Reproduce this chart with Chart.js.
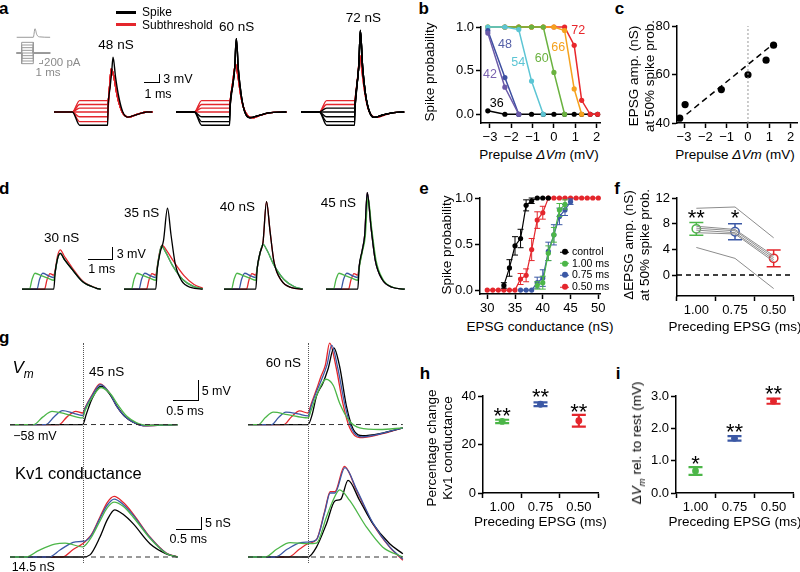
<!DOCTYPE html>
<html>
<head>
<meta charset="utf-8">
<script src="https://cdn.jsdelivr.net/npm/chart.js@4.4.1/dist/chart.umd.min.js"></script>
<style>
  html, body { margin: 0; padding: 0; background: #fff; }
  #fig { position: relative; width: 800px; height: 572px; overflow: hidden; font-family: "Liberation Sans", Arial, sans-serif; }
  #fig canvas { position: absolute; }
  .t { position: absolute; white-space: nowrap; line-height: 1; text-align: center; }
</style>
</head>
<body>
<div id="fig"></div>
<script>
const FONT = '"Liberation Sans", Arial, sans-serif';
const GREEN = '#4cb648', BLUE = '#3b58a5', RED = '#e4262c', BLACK = '#000';

// ---------- a : prepulse families (ms, mV from rest) ----------
const aLevels = [3.8, 2.5, 1.3, 0, -1.6, -3.2, -4.4];
const aSpikeCount = [1, 3, 5];          // lowest prepulses that fire, 48 / 60 / 72 nS
const a48Sub = [[3.42,5],[3.5,10],[3.58,14.4],[3.75,11.5],[3.95,5.5],[4.15,1.5],[4.35,-0.8],[4.66,-1.7],[5.18,-0.8],[5.8,0],[6.15,0]];
const a48Spike = [[3.38,1.5],[3.5,8],[3.6,13],[3.69,18.3],[3.85,11.5],[4.05,5],[4.3,0],[4.62,-1.7],[5.15,-0.9],[5.8,0],[6.15,0]];
const a60Sub = [[3.42,5],[3.55,10],[3.72,15.9],[3.87,12],[4.05,5.5],[4.25,1],[4.5,-1.3],[4.8,-1.9],[5.2,-1.2],[5.8,-0.3],[6.9,0]];
const a60Spike = [[3.38,1.5],[3.55,9],[3.66,14],[3.77,24.4],[3.9,14],[4.08,5.5],[4.3,0],[4.62,-1.9],[5.15,-1.2],[5.8,-0.3],[6.9,0]];
const a72Sub = [[3.42,6],[3.55,12],[3.68,18.9],[3.82,13],[4.0,6],[4.2,1],[4.45,-1.3],[4.75,-1.8],[5.2,-1.0],[5.8,-0.2],[6.45,0]];
const a72Spike = [[3.38,2],[3.52,10],[3.62,16],[3.71,27.2],[3.85,15],[4.03,6],[4.25,0.5],[4.55,-1.8],[5.1,-1.0],[5.8,-0.2],[6.45,0]];
const aInsetLevels = [-400, -300, -200, -100, 0, 100, 200, 300, 400];   // pA
const aInsetEpsg = [[0.46,0],[4.95,0],[5.4,1],[5.9,0.3],[6.6,0.05],[9.5,0]];

// ---------- b : spike probability vs prepulse ----------
const bX = [-3.1, -2.3, -1.65, -1.05, -0.5, 0, 0.5, 0.95, 1.3, 1.7, 2.05];
const b36 = [0.04, 0, 0, 0, 0, 0, 0, 0, 0, 0, 0];
const b42 = [0.93, 0.31, 0];
const b48 = [0.96, 0.42, 0];
const b54 = [1, 1, 0.97, 0.38, 0];
const b60 = [1, 1, 1, 1, 1, 0.48, 0];
const b66 = [1, 1, 1, 1, 1, 1, 0.96, 0.29, 0];
const b72 = [null, 1, 1, 1, 1, 1, 1, 0.79, 0.16, 0, 0];

// ---------- c : threshold EPSG vs prepulse ----------
const cX = [-3.2, -2.95, -1.25, 0, 0.85, 1.2];
const cY = [42, 47.6, 53.8, 59.9, 65.9, 72.1];
const cFit = [[-2.88, 43.6], [1.02, 71.4]];

// ---------- d : preceding EPSGs (ms, mV) ----------
const dGreenPre = [[0,0],[0.3,0],[0.4,2.5],[0.52,4.1],[0.8,3.4],[1.05,2.8],[1.27,2.3]];
const dBluePre = [[0,0],[0.6,0],[0.7,2.5],[0.83,4.1],[1.05,3.5],[1.27,3.0]];
const dRedPre = [[0,0],[0.9,0],[1.0,2.4],[1.12,4.0],[1.27,3.6]];
const dBlackPre = [[0,0],[1.27,0]];
const d30Sub = [[1.33,4.5],[1.42,7.8],[1.53,9.2],[1.7,7.6],[2.03,4.9],[2.43,1.9],[2.96,0.3],[3.15,0]];
const d30SubRed = [[1.33,5],[1.42,8.5],[1.53,10.1],[1.7,8.4],[2.03,5.3],[2.43,2.1],[2.96,0.3],[3.15,0]];
const d35Sub = [[1.33,5.5],[1.42,9],[1.5,11.1],[1.65,9.7],[1.95,6],[2.35,2.5],[2.75,0.8],[3.15,0.1]];
const d35SubRed = [[1.33,5.8],[1.42,9.3],[1.52,11.3],[1.7,10],[2.0,7],[2.4,3.5],[2.8,1.2],[3.15,0.3]];
const d35Spike = [[1.33,5],[1.45,9.5],[1.58,12.5],[1.74,20.8],[1.88,14],[2.05,6.5],[2.3,2.2],[2.7,0.4],[3.15,0]];
const d40Sub = [[1.33,5.5],[1.45,9.5],[1.56,11.5],[1.72,10],[2.0,6.2],[2.4,2.5],[2.8,0.7],[3.15,0]];
const d40Spike = [[1.33,5.5],[1.45,9.5],[1.56,12],[1.7,22.5],[1.84,15],[2.0,7],[2.3,2.2],[2.7,0.4],[3.15,0]];
const d45Spike = [[1.33,6],[1.45,10],[1.55,14],[1.65,24.8],[1.8,16],[1.97,7.5],[2.25,2.5],[2.65,0.5],[3.15,0]];
const d45SpikeGreen = [[1.33,5.5],[1.45,9.5],[1.57,13.5],[1.68,23.5],[1.83,15.5],[2.0,7.5],[2.28,2.5],[2.68,0.5],[3.15,0]];

// ---------- e : spike probability vs EPSG ----------
const eX = [30,31,32,33,34,35,36,37,38,39,40,41,42,43,44,45,46,47,48,49,50];
const eCtrl = [null,null,null,0.05,0.24,0.48,0.56,0.92,0.97,1,1,1];
const eCtrlErr = [0,0,0,0.03,0.09,0.1,0.1,0.06,0.03,0,0,0];
const e100 = [null,null,null,null,null,null,null,null,null,0.05,0.08,0.4,0.6,0.87,0.93];
const e100Err = [0,0,0,0,0,0,0,0,0,0.04,0.07,0.08,0.08,0.07,0.05];
const e075 = [null,null,null,null,null,null,0,0,0,0.08,0.13,0.42,0.6,0.8,0.87,0.96];
const e075Err = [0,0,0,0,0,0,0,0,0,0.06,0.09,0.1,0.11,0.09,0.06,0.03];
const e050 = [0,0,0,0,0,0,0.12,0.16,0.44,0.76,0.84,1,1,1,1,1,1,1,1,1,1];
const e050Err = [0,0,0,0,0,0,0.06,0.07,0.12,0.09,0.07,0,0,0,0,0,0,0,0,0,0];

// ---------- f / h / i : by preceding EPSG ----------
const precLabels = ['1.00', '0.75', '0.50'];
const fMean = [7.2, 6.75, 2.6];
const fErr = [1.0, 1.25, 1.3];
const fCells = [[10.4,10.6,5.8],[7.6,7.1,3.0],[7.3,6.9,2.7],[7.0,6.6,2.4],[6.6,6.4,2.1],[4.3,2.6,-2.1]];
const fStars = ['**', '*', ''];
const fStarY = [9.8, 9.8, 0];
const hMean = [29.5, 36.6, 29.8];
const hErr = [0.7, 0.8, 2.4];
const hStars = ['**', '**', '**'];
const hStarY = [34.2, 41.8, 35.6];
const iMean = [0.68, 1.69, 2.84];
const iErr = [0.12, 0.07, 0.08];
const iStars = ['*', '**', '**'];
const iStarY = [1.07, 2.05, 3.22];

// ---------- g : Vm and Kv1 conductance (ms, mV / nS from rest) ----------
const gVmLGreen = [[0,0],[0.45,0],[0.62,1.8],[0.8,3.2],[1.05,2.6],[1.38,1.6],[1.43,3.5],[1.55,6.3],[1.73,9.0],[1.92,7.3],[2.05,4.8],[2.22,2.0],[2.4,0.5],[2.6,-0.2],[3.19,0]];
const gVmLBlue = [[0,0],[0.68,0],[0.84,1.9],[1.0,3.4],[1.2,2.8],[1.38,2.2],[1.43,4.0],[1.55,6.8],[1.72,9.7],[1.9,7.5],[2.02,4.6],[2.18,2.0],[2.34,0.6],[2.53,-0.3],[2.8,-0.2],[3.19,0]];
const gVmLRed = [[0,0],[0.93,0],[1.08,1.8],[1.25,3.2],[1.38,2.8],[1.43,4.2],[1.55,7.0],[1.71,9.9],[1.9,7.5],[2.02,4.6],[2.18,2.0],[2.34,0.6],[2.53,-0.3],[2.8,-0.2],[3.19,0]];
const gVmLBlack = [[0,0],[1.38,0],[1.45,2.5],[1.55,6],[1.73,9.3],[1.9,7.3],[2.03,4.5],[2.18,2.0],[2.34,0.6],[2.53,-0.2],[3.19,0]];
const gVmRGreen = [[0,0],[0.2,0],[0.33,1.7],[0.48,3.0],[0.75,2.4],[1.14,1.6],[1.2,3.5],[1.3,7],[1.48,11.0],[1.62,9.5],[1.74,5.2],[1.93,0.8],[2.12,-0.8],[2.5,-1.2],[2.94,-0.8]];
const gVmRBlue = [[0,0],[0.45,0],[0.58,1.7],[0.72,3.0],[0.95,2.6],[1.14,2.1],[1.2,4.5],[1.3,8],[1.4,11],[1.5,14.5],[1.59,19.3],[1.7,14],[1.84,4.8],[1.97,-1],[2.15,-3],[2.5,-2.3],[2.94,-0.8]];
const gVmRRed = [[0,0],[0.68,0],[0.82,1.8],[0.98,3.3],[1.14,2.8],[1.2,5],[1.3,8.5],[1.38,11.5],[1.47,14.5],[1.55,19.8],[1.67,14.1],[1.8,5.2],[1.93,-0.8],[2.12,-3.2],[2.5,-2.4],[2.94,-0.8]];
const gVmRBlack = [[0,0],[1.14,0],[1.22,2.5],[1.3,6.9],[1.42,10],[1.52,13.5],[1.63,18.6],[1.74,14.1],[1.87,4.4],[2.0,-1.2],[2.18,-2.7],[2.5,-2.2],[2.94,-0.8]];
const gKvLGreen = [[0,0],[0.3,0],[0.55,2.5],[0.85,4.8],[1.05,5.2],[1.38,3.8],[1.45,4.8],[1.55,7.5],[1.71,13.5],[1.85,18.5],[1.98,20.6],[2.15,19],[2.34,15],[2.66,7],[2.97,1.3],[3.19,0]];
const gKvLBlue = [[0,0],[0.74,0],[0.95,2.6],[1.2,5.5],[1.38,5.9],[1.45,6.2],[1.55,8.2],[1.71,14.5],[1.85,19.5],[1.98,21.7],[2.15,19.7],[2.34,15.7],[2.66,7.3],[2.97,1.4],[3.19,0]];
const gKvLRed = [[0,0],[0.99,0],[1.2,2.8],[1.38,5.0],[1.45,6.2],[1.55,8.5],[1.71,15],[1.85,20.5],[1.98,22.7],[2.15,20.5],[2.34,16.2],[2.66,7.5],[2.97,1.5],[3.19,0]];
const gKvLBlack = [[0,0],[1.38,0],[1.52,0.8],[1.71,7.5],[1.85,14],[1.99,17.7],[2.15,16],[2.34,12.5],[2.66,5],[2.97,1.2],[3.19,0]];
const gKvRGreen = [[0,0],[0.33,0],[0.55,3],[0.8,5.4],[1.14,5.0],[1.3,5.2],[1.49,15],[1.62,21.5],[1.74,25.2],[1.93,21.2],[2.25,11.2],[2.56,3.7],[2.94,0]];
const gKvRBlue = [[0,0],[0.52,0],[0.75,3],[1.0,5.4],[1.14,5.6],[1.3,6.5],[1.46,17],[1.56,24],[1.65,24],[1.84,33.5],[2.07,25],[2.37,12.8],[2.69,3.8],[2.94,-0.8]];
const gKvRRed = [[0,0],[0.77,0],[0.98,3],[1.14,5.0],[1.3,6.5],[1.46,17.5],[1.56,24.5],[1.65,24.5],[1.83,34],[2.06,25],[2.37,12.5],[2.69,3.7],[2.94,-1.2]];
const gKvRBlack = [[0,0],[1.14,0],[1.3,3.7],[1.49,12.5],[1.65,21],[1.76,21.6],[1.9,28.7],[2.12,21.2],[2.37,12.5],[2.69,5],[2.94,1.2]];
const gBaseL = [[0,0],[3.19,0]];
const gBaseR = [[0,0],[2.94,0]];

// ======================================================================
const fig = document.getElementById('fig');
Chart.defaults.font.family = FONT;
Chart.defaults.font.size = 13;
Chart.defaults.color = '#000';
Chart.defaults.animation = false;
Chart.defaults.responsive = false;
Chart.defaults.plugins.legend.display = false;
Chart.defaults.plugins.tooltip.enabled = false;

// error bars, stars and the dashed zero line
const marks = {
  id: 'marks',
  beforeDatasetsDraw(chart, args, opts) {
    if (!opts.zeroLine) return;
    const { ctx, chartArea: a } = chart;
    const y = chart.scales.y.getPixelForValue(0);
    ctx.save();
    ctx.setLineDash([5, 4]);
    ctx.lineWidth = 1.5;
    ctx.strokeStyle = '#000';
    ctx.beginPath(); ctx.moveTo(a.left, y); ctx.lineTo(a.right, y); ctx.stroke();
    ctx.restore();
  },
  beforeDatasetDraw(chart, args) {
    const ds = chart.data.datasets[args.index];
    if (!ds.err) return;
    const ctx = chart.ctx, ys = chart.scales.y;
    ctx.save();
    ctx.lineWidth = ds.errWidth || 1;
    args.meta.data.forEach((pt, j) => {
      const v = ds.data[j];
      const val = v && typeof v === 'object' ? v.y : v;
      if (val == null || !ds.err[j]) return;
      const t = ys.getPixelForValue(val + ds.err[j]), b = ys.getPixelForValue(val - ds.err[j]);
      const w = ds.capW || 3;
      ctx.strokeStyle = Array.isArray(ds.errColor) ? ds.errColor[j] : (ds.errColor || ds.borderColor);
      ctx.beginPath();
      ctx.moveTo(pt.x, t); ctx.lineTo(pt.x, b);
      ctx.moveTo(pt.x - w, t); ctx.lineTo(pt.x + w, t);
      ctx.moveTo(pt.x - w, b); ctx.lineTo(pt.x + w, b);
      ctx.stroke();
    });
    ctx.restore();
  },
  afterDatasetsDraw(chart, args, opts) {
    if (!opts.stars) return;
    const ctx = chart.ctx, size = 22;
    ctx.save();
    ctx.font = size + 'px ' + FONT;
    ctx.fillStyle = '#000';
    ctx.textAlign = 'center';
    ctx.textBaseline = 'alphabetic';
    opts.stars.forEach((s, j) => {
      if (!s) return;
      ctx.fillText(s, chart.scales.x.getPixelForValue(j), chart.scales.y.getPixelForValue(opts.starY[j]) + 0.57 * size);
    });
    ctx.restore();
  }
};
Chart.register(marks);

function canvasAt(left, top, w, h) {
  const c = document.createElement('canvas');
  c.width = Math.round(w); c.height = Math.round(h);
  c.style.left = left + 'px'; c.style.top = top + 'px';
  c.style.width = Math.round(w) + 'px'; c.style.height = Math.round(h) + 'px';
  fig.appendChild(c);
  return c;
}

function txt(html, x, y, o = {}) {
  const d = document.createElement('div');
  d.className = 't';
  d.innerHTML = html;
  d.style.left = x + 'px';
  d.style.top = y + 'px';
  d.style.fontSize = (o.size || 13.5) + 'px';
  if (o.color) d.style.color = o.color;
  if (o.bold) d.style.fontWeight = 'bold';
  if (o.lh) d.style.lineHeight = o.lh;
  d.style.transform = 'translate(' + (o.align === 'left' ? '0' : '-50%') + ',-50%)' + (o.rot ? ' rotate(-90deg)' : '');
  fig.appendChild(d);
}

function box(left, top, w, h, css) {
  const d = document.createElement('div');
  d.style.cssText = `position:absolute;left:${left}px;top:${top}px;width:${w}px;height:${h}px;${css}`;
  fig.appendChild(d);
}

const pts = arr => arr.map(p => ({ x: p[0], y: p[1] }));

function trace(arr, color, extra) {
  return Object.assign({
    data: pts(arr), borderColor: color, borderWidth: 1.3, pointRadius: 0,
    cubicInterpolationMode: 'monotone', clip: false, fill: false
  }, extra);
}

// a chart with hidden linear axes; x0/yBase are where (0,0) sits on the page
function traceChart(x0, yBase, px, py, xr, yr, datasets) {
  const left = x0 + xr[0] * px, top = yBase - yr[1] * py;
  return new Chart(canvasAt(left, top, (xr[1] - xr[0]) * px, (yr[1] - yr[0]) * py), {
    type: 'line',
    data: { datasets },
    options: {
      layout: { padding: 0 },
      scales: {
        x: { type: 'linear', display: false, min: xr[0], max: xr[1] },
        y: { type: 'linear', display: false, min: yr[0], max: yr[1] }
      }
    }
  });
}

const minus = v => (v < 0 ? '\u2212' + Math.abs(v) : String(v));
const AX_BORDER = { display: true, color: '#000', width: 1.5 };
const AX_GRID = { display: true, drawOnChartArea: false, drawTicks: true, tickLength: 5, tickColor: '#000', tickWidth: 1.5 };

function linAxis(min, max, step, fmt) {
  return {
    type: 'linear', min, max,
    border: AX_BORDER, grid: AX_GRID,
    ticks: { stepSize: step, includeBounds: false, autoSkip: false, color: '#000', font: { size: 13 }, padding: 2, callback: fmt }
  };
}
function catAxis() {
  return {
    type: 'category', offset: true,
    border: AX_BORDER, grid: Object.assign({}, AX_GRID, { offset: true }),
    ticks: { autoSkip: false, color: '#000', font: { size: 13 }, padding: 2 }
  };
}

// plot area given in page pixels
function axisChart(area, cfg) {
  const yW = 46, xH = 24, padT = 12, padR = 12;
  const c = canvasAt(area.l - yW, area.t - padT, area.r - area.l + yW + padR, area.b - area.t + padT + xH);
  cfg.options.layout = { padding: { top: padT, right: padR, left: 0, bottom: 0 } };
  cfg.options.scales.x.afterFit = s => { s.height = xH; };
  cfg.options.scales.y.afterFit = s => { s.width = yW; };
  return new Chart(c, cfg);
}

// ---------------- panel a ----------------
const aPosts = [[a48Sub, a48Spike], [a60Sub, a60Spike], [a72Sub, a72Spike]];
const aX0 = [53.7, 176.4, 301.4];
aPosts.forEach(([sub, spike], k) => {
  const black = [], red = [];
  aLevels.forEach((L, i) => {
    const pre = [[0,0],[1.15,0],[1.6,L],[3.35,L]];
    if (i >= aLevels.length - aSpikeCount[k]) black.push(trace(pre.concat(spike), BLACK, { borderWidth: 1.4 }));
    else red.push(trace(pre.concat(sub), RED, { borderWidth: 1.4 }));
  });
  traceChart(aX0[k], 111.5, 16, 3, [0, 7], [-6, 29], black.concat(red));
});
// inset: command waveforms
traceChart(15, 53.3, 3.7, 0.0267, [0, 10], [-450, 450],
  aInsetLevels.map(L => trace([[0.46,0],[1.8,0],[1.8,L],[4.95,L],[4.95,0],[9.5,0]], '#9a9a9a', { borderWidth: 1, cubicInterpolationMode: 'default', tension: 0 })));
traceChart(15, 36.7, 3.7, 8.4, [0, 10], [-0.2, 1.2], [trace(aInsetEpsg, '#9a9a9a', { borderWidth: 1 })]);

// ---------------- panel b ----------------
const bSeries = [[b42,'#6b5aa9'],[b48,'#3d4fa1'],[b54,'#5cc5d4'],[b60,'#6ab23f'],[b66,'#f5a21e'],[b72,'#e8272c'],[b36,'#000']];
axisChart({ l: 481, r: 600, t: 26.7, b: 122.7 }, {
  type: 'line',
  data: {
    datasets: bSeries.map(([ys, col]) => ({
      data: ys.map((y, i) => ({ x: bX[i], y })), borderColor: col, backgroundColor: col,
      pointBackgroundColor: col, pointBorderWidth: 0, pointRadius: 2.6, borderWidth: 1.5, clip: false
    }))
  },
  options: { scales: { x: linAxis(-3.42, 2.16, 1, minus), y: linAxis(-0.1, 1.0, 0.5, v => v.toFixed(1)) } }
});

// ---------------- panel c ----------------
axisChart({ l: 676.7, r: 796.7, t: 26, b: 122.7 }, {
  type: 'line',
  data: {
    datasets: [
      { data: pts([[0, 40], [0, 80]]), borderColor: '#999', borderWidth: 1, borderDash: [2, 2], pointRadius: 0, clip: false },
      { data: pts(cFit), borderColor: '#000', borderWidth: 1.5, borderDash: [6, 4], pointRadius: 0, clip: false },
      { data: cX.map((x, i) => ({ x, y: cY[i] })), showLine: false, pointRadius: 3.6, pointBackgroundColor: '#000', pointBorderWidth: 0, clip: false }
    ]
  },
  options: { scales: { x: linAxis(-3.33, 2.3, 1, minus), y: linAxis(40, 80, 20) } }
});

// ---------------- panel d ----------------
const dSets = [
  [[dBlackPre, d30Sub], [dGreenPre, d30Sub], [dBluePre, d30Sub], [dRedPre, d30SubRed]],
  [[dBlackPre, d35Spike], [dGreenPre, d35Sub], [dBluePre, d35Sub], [dRedPre, d35SubRed]],
  [[dBlackPre, d40Spike], [dGreenPre, d40Sub], [dBluePre, d40Sub], [dRedPre, d40Spike]],
  [[dBlackPre, d45Spike], [dGreenPre, d45SpikeGreen], [dBluePre, d45Spike], [dRedPre, d45Spike]]
];
const dCols = [BLACK, GREEN, BLUE, RED];
const dX0 = [21.5, 124.25, 224.25, 325.55];
dSets.forEach((set, k) => {
  traceChart(dX0[k], 289.3, 25, 3.9, [0, 3.2], [-2, 26],
    set.map(([pre, post], i) => trace(pre.concat(post), dCols[i])));
});

// ---------------- panel e ----------------
const eSeries = [[eCtrl, eCtrlErr, BLACK], [e100, e100Err, GREEN], [e075, e075Err, BLUE], [e050, e050Err, RED]];
axisChart({ l: 480, r: 600, t: 197.7, b: 294 }, {
  type: 'line',
  data: {
    datasets: eSeries.map(([ys, err, col]) => ({
      data: ys.map((y, i) => ({ x: eX[i], y })), err, capW: 3, errWidth: 1,
      borderColor: col, pointBackgroundColor: col, pointBorderWidth: 0, pointRadius: 2.6, borderWidth: 1.2, clip: false
    }))
  },
  options: { scales: { x: linAxis(28.7, 50.3, 5), y: linAxis(-0.043, 1.0, 0.5, v => v.toFixed(1)) } }
});

// ---------------- panel f ----------------
axisChart({ l: 676.7, r: 792.7, t: 197.7, b: 296 }, {
  type: 'line',
  data: {
    labels: precLabels,
    datasets: fCells.map(ys => ({ data: ys, borderColor: '#8c8c8c', borderWidth: 1, pointRadius: 0, tension: 0 }))
      .concat([{
        data: fMean, showLine: false, err: fErr, capW: 7, errWidth: 1.5, errColor: [GREEN, BLUE, RED],
        pointRadius: 4.2, pointBorderWidth: 1.5, pointBorderColor: [GREEN, BLUE, RED], pointBackgroundColor: '#fff', clip: false
      }])
  },
  options: {
    plugins: { marks: { zeroLine: true, stars: fStars, starY: fStarY } },
    scales: { x: catAxis(), y: linAxis(-3.26, 12, 4) }
  }
});

// ---------------- panels h and i ----------------
function summary(area, mean, err, min, max, step, fmt, stars, starY) {
  axisChart(area, {
    type: 'line',
    data: {
      labels: precLabels,
      datasets: [{
        data: mean, showLine: false, err, capW: 7, errWidth: 2.2, errColor: [GREEN, BLUE, RED],
        pointRadius: 3.4, pointBorderWidth: 0, pointBackgroundColor: [GREEN, BLUE, RED], clip: false
      }]
    },
    options: {
      plugins: { marks: { stars, starY } },
      scales: { x: catAxis(), y: linAxis(min, max, step, fmt) }
    }
  });
}
summary({ l: 482.7, r: 598, t: 396, b: 492.7 }, hMean, hErr, 0, 40, 20, undefined, hStars, hStarY);
summary({ l: 676, r: 793, t: 396, b: 492.7 }, iMean, iErr, 0, 3, 1, v => v.toFixed(1), iStars, iStarY);

// ---------------- panel g ----------------
const dash = { borderColor: '#333', borderWidth: 1, borderDash: [5, 4], cubicInterpolationMode: 'default' };
traceChart(10, 425, 52.7, 4.13, [0, 3.25], [-4, 22], [
  trace(gBaseL, '#333', dash),
  trace(gVmLGreen, GREEN), trace(gVmLBlue, BLUE), trace(gVmLBlack, BLACK), trace(gVmLRed, RED)]);
traceChart(248.3, 425, 52.7, 4.13, [0, 3.0], [-4, 22], [
  trace(gBaseR, '#333', dash),
  trace(gVmRGreen, GREEN), trace(gVmRBlue, BLUE), trace(gVmRBlack, BLACK), trace(gVmRRed, RED)]);
traceChart(10, 556.7, 52.7, 2.67, [0, 3.25], [-3, 36], [
  trace(gBaseL, '#333', dash),
  trace(gKvLGreen, GREEN), trace(gKvLBlue, BLUE), trace(gKvLBlack, BLACK), trace(gKvLRed, RED)]);
traceChart(248.3, 556.7, 52.7, 2.67, [0, 3.0], [-3, 36], [
  trace(gBaseR, '#333', dash),
  trace(gKvRGreen, GREEN), trace(gKvRBlue, BLUE), trace(gKvRBlack, BLACK), trace(gKvRRed, RED)]);
box(82.7, 343, 0, 220, 'border-left:1px dotted #555');
box(308.3, 343, 0, 220, 'border-left:1px dotted #555');

// ---------------- text and scale bars ----------------
const L = { size: 17, bold: true };
txt('a', 3.7, 7.7, L); txt('b', 423.7, 7.5, L); txt('c', 619.5, 7.7, L);
txt('d', 4.2, 187.5, L); txt('e', 424, 188.2, L); txt('f', 617, 188.3, L);
txt('g', 4.2, 336.7, L); txt('h', 425, 373.3, L); txt('i', 618, 373.3, L);

// a
box(116, 11, 20, 3, 'background:#000');
box(116, 22.5, 20, 3, 'background:' + RED);
txt('Spike', 142, 12.3, { size: 12, align: 'left' });
txt('Subthreshold', 142, 25, { size: 12, align: 'left' });
box(39, 60, 3, 3, 'border-right:1px solid #999;border-bottom:1px solid #999');
txt('200 pA', 44, 62.7, { size: 11.5, align: 'left', color: '#8a8a8a' });
txt('1 ms', 48, 73.3, { size: 11.5, color: '#8a8a8a' });
txt('48 nS', 116, 45); txt('60 nS', 236.7, 26.7); txt('72 nS', 363.3, 18.3);
box(144, 74, 15, 8, 'border-right:1.5px solid #000;border-bottom:1.5px solid #000');
txt('3 mV', 163.3, 79, { size: 12.5, align: 'left' });
txt('1 ms', 158, 94.3, { size: 12.5 });

// b, c
txt('Spike probability', 430, 72, { rot: true });
txt('Prepulse <i>\u0394Vm</i> (mV)', 539, 155);
txt('EPSG amp. (nS)<br>at 50% spike prob.', 641.7, 76, { rot: true, lh: 1.22 });
txt('Prepulse <i>\u0394Vm</i> (mV)', 735, 155);
const bTags = [['72', 578.3, 30, '#e8272c'], ['66', 558.3, 46.7, '#f5a21e'], ['60', 541.7, 58.3, '#6ab23f'],
  ['54', 518.3, 61.7, '#5cc5d4'], ['48', 505, 44.3, '#5560a8'], ['42', 490, 74.3, '#7a62b0'], ['36', 496.7, 103.3, '#000']];
bTags.forEach(([s, x, y, col]) => txt(s, x, y, { size: 12.5, color: col }));

// d
txt('30 nS', 61.7, 238.3); txt('35 nS', 141.7, 213.3); txt('40 nS', 237.3, 207.3); txt('45 nS', 338.3, 202.7);
box(88.3, 246.7, 24, 12, 'border-right:1.5px solid #000;border-bottom:1.5px solid #000');
txt('3 mV', 116.7, 254, { size: 12.5, align: 'left' });
txt('1 ms', 101.7, 269.3, { size: 12.5 });

// e
txt('Spike probability', 446.7, 245, { rot: true });
txt('EPSG conductance (nS)', 540, 327);
[['control', BLACK, 251], ['1.00 ms', GREEN, 262.7], ['0.75 ms', BLUE, 274], ['0.50 ms', RED, 286]].forEach(([s, col, y]) => {
  txt(`<span style="display:inline-block;position:relative;width:9px;height:0;border-top:1.3px solid ${col};vertical-align:middle;margin-right:3px"><span style="position:absolute;left:1.5px;top:-3.6px;width:6px;height:6px;border-radius:3px;background:${col}"></span></span>${s}`,
    560, y, { size: 10.5, align: 'left' });
});

// f, h, i
txt('\u0394EPSG amp. (nS)<br>at 50% spike prob.', 636.7, 245, { rot: true, lh: 1.22 });
txt('Preceding EPSG (ms)', 735, 326.7);
txt('Percentage change<br>Kv1 conductance', 440, 448.3, { rot: true, lh: 1.22 });
txt('Preceding EPSG (ms)', 540.3, 521.7);
txt('\u0394<i>V<sub style="font-size:70%">m</sub></i> rel. to rest (mV)', 638.3, 443.3, { rot: true });
txt('Preceding EPSG (ms)', 735, 521.7);

// g
txt('<i>V<sub style="font-size:70%">m</sub></i>', 23, 370, { size: 17 });
txt('45 nS', 106.7, 371.7); txt('60 nS', 283.3, 362.7);
box(172.7, 380, 25, 19.5, 'border-right:1.5px solid #000;border-bottom:1.5px solid #000');
txt('5 mV', 201.7, 390.7, { size: 12.5, align: 'left' });
txt('0.5 ms', 185, 410.7, { size: 12.5 });
txt('\u221258 mV', 35, 436, { size: 12.5 });
txt('Kv1 conductance', 15, 472.7, { size: 16.5, align: 'left' });
box(176, 516.7, 24.5, 12.5, 'border-right:1.5px solid #000;border-bottom:1.5px solid #000');
txt('5 nS', 205, 522.7, { size: 12.5, align: 'left' });
txt('0.5 ms', 188.3, 539.3, { size: 12.5 });
txt('14.5 nS', 33.3, 567.3, { size: 12.5 });
</script>
</body>
</html>
